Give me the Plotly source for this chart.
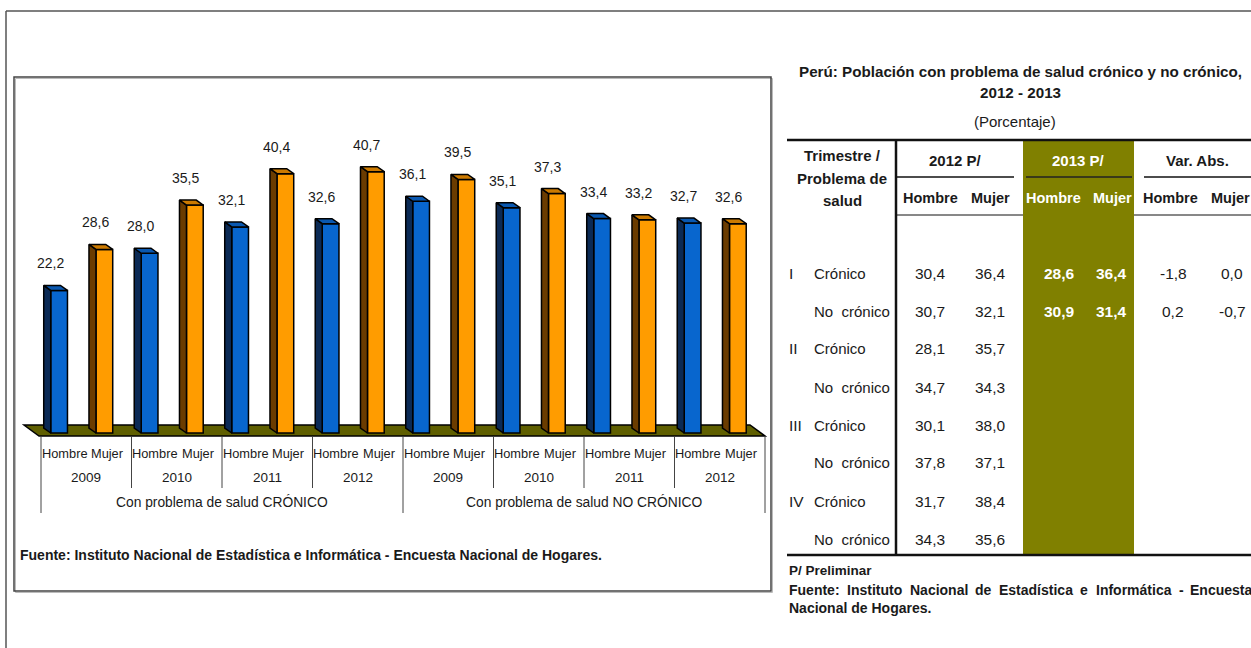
import plotly.graph_objects as go

# ---------------- data ----------------
years = ["2009", "2010", "2011", "2012"]
group_labels = ["Con problema de salud CRÓNICO", "Con problema de salud NO CRÓNICO"]
sex_labels = ["Hombre", "Mujer"]

hombre_cronico = [22.2, 28.0, 32.1, 32.6]
mujer_cronico = [28.6, 35.5, 40.4, 40.7]
hombre_no_cronico = [36.1, 35.1, 33.4, 32.7]
mujer_no_cronico = [39.5, 37.3, 33.2, 32.6]

table_title = ["Perú: Población con problema de salud crónico y no crónico,", "2012 - 2013"]
table_unit = "(Porcentaje)"
trimestres = ["I", "II", "III", "IV"]
problemas = ["Crónico", "No  crónico"]
hombre_2012 = [30.4, 30.7, 28.1, 34.7, 30.1, 37.8, 31.7, 34.3]
mujer_2012 = [36.4, 32.1, 35.7, 34.3, 38.0, 37.1, 38.4, 35.6]
hombre_2013 = [28.6, 30.9]
mujer_2013 = [36.4, 31.4]

# ---------------- layout constants ----------------
W, H = 1251, 648
FONT = "Liberation Sans, Arial, sans-serif"
TXT = "#1a1a1a"
X0_PX, PITCH = 41.0, 45.25      # x = -0.5 at X0_PX, one category = PITCH px
Y0_PX, SCALE = 433.0, 6.42      # value 0 at Y0_PX, px per unit
BOX = (14, 77, 771, 591)        # chart frame (px)


def fmt(v):
    return f"{v:.1f}".replace(".", ",")


def px_x(px):
    return px / W


def px_y(py):
    return 1 - py / H


def ux(px):  # pixel -> data x
    return (px - X0_PX) / PITCH - 0.5


def uy(py):  # pixel -> data y
    return (Y0_PX - py) / SCALE


# ---------------- bar values ----------------
values = []
for hs, ms in [(hombre_cronico, mujer_cronico), (hombre_no_cronico, mujer_no_cronico)]:
    for h, m in zip(hs, ms):
        values += [h, m]
positions = list(range(len(values)))
h_pos, h_val = positions[0::2], values[0::2]
m_pos, m_val = positions[1::2], values[1::2]

OFF, WID = -0.285, 0.37
DX, DY = 7 / PITCH, 5 / SCALE

BLUE, BLUE_SIDE, BLUE_TOP = "#0866CE", "#0B2A55", "#0A58B0"
ORG, ORG_SIDE, ORG_TOP = "#FF9C00", "#6B3C00", "#CC7A00"

fig = go.Figure()


def faces(pos, vals):
    sx, sy, tx, ty = [], [], [], []
    for p, v in zip(pos, vals):
        xl = p + OFF
        xr = xl + WID
        sx += [xl, xl, xl - DX, xl - DX, xl, None]
        sy += [0, v, v + DY, DY, 0, None]
        tx += [xl, xr, xr - DX, xl - DX, xl, None]
        ty += [v, v, v + DY, v + DY, v, None]
    return sx, sy, tx, ty


for pos, vals, front, side, top in [(h_pos, h_val, BLUE, BLUE_SIDE, BLUE_TOP),
                                    (m_pos, m_val, ORG, ORG_SIDE, ORG_TOP)]:
    fig.add_trace(go.Bar(x=pos, y=vals, width=WID, offset=OFF,
                         marker=dict(color=front, line=dict(color="black", width=1.5)),
                         hoverinfo="skip", showlegend=False))
    sx, sy, tx, ty = faces(pos, vals)
    fig.add_trace(go.Scatter(x=sx, y=sy, mode="lines", fill="toself", fillcolor=side,
                             line=dict(color="black", width=1.5), hoverinfo="skip",
                             showlegend=False))
    fig.add_trace(go.Scatter(x=tx, y=ty, mode="lines", fill="toself", fillcolor=top,
                             line=dict(color="black", width=1.5), hoverinfo="skip",
                             showlegend=False))

annotations = []
shapes = []

# value labels
LABEL_DX, LABEL_DY = -0.3, 27 / SCALE
for p, v in zip(positions, values):
    annotations.append(dict(x=p + LABEL_DX, y=v + LABEL_DY, xref="x", yref="y",
                            text=fmt(v), showarrow=False, xanchor="center", yanchor="middle",
                            font=dict(family=FONT, size=14, color=TXT)))

# floor (below traces)
fl_top, fl_bot = uy(425), uy(436)
floor_path = (f"M {ux(24)},{fl_top} L {ux(750)},{fl_top} L {ux(765)},{fl_bot} "
              f"L {ux(39)},{fl_bot} Z")
shapes.append(dict(type="path", path=floor_path, xref="x", yref="y", layer="below",
                   fillcolor="#5F5F00", line=dict(color="black", width=1.5)))

# category axis labels & separators
n_groups = len(years) * len(group_labels)
sep_top = uy(437)
for k in range(n_groups + 1):
    xb = -0.5 + 2 * k
    outer = (k % len(years) == 0)
    bottom = uy(513) if outer else uy(488)
    shapes.append(dict(type="line", xref="x", yref="y", x0=xb, x1=xb, y0=sep_top, y1=bottom,
                       line=dict(color="#444444", width=1)))
for p in positions:
    annotations.append(dict(x=p + (0.03 if p % 2 == 0 else -0.02), y=uy(453), xref="x",
                            yref="y", text=sex_labels[p % 2],
                            showarrow=False, xanchor="center", yanchor="middle",
                            font=dict(family=FONT, size=12.8, color=TXT)))
for k in range(n_groups):
    annotations.append(dict(x=2 * k + 0.5, y=uy(477), xref="x", yref="y",
                            text=years[k % len(years)], showarrow=False,
                            xanchor="center", yanchor="middle",
                            font=dict(family=FONT, size=13.5, color=TXT)))
for g, lab in enumerate(group_labels):
    annotations.append(dict(x=g * 8 + 3.5, y=uy(502), xref="x", yref="y", text=lab,
                            showarrow=False, xanchor="center", yanchor="middle",
                            font=dict(family=FONT, size=13.8, color=TXT)))

# chart footnote and frame (with a light shadow line)
annotations.append(dict(x=px_x(18), y=px_y(555), xref="paper", yref="paper",
                        text="<b>Fuente: Instituto Nacional de Estadística e Informática - "
                             "Encuesta Nacional de Hogares.</b>",
                        showarrow=False, xanchor="left", yanchor="middle",
                        font=dict(family=FONT, size=14, color=TXT)))
shapes.append(dict(type="rect", xref="paper", yref="paper", x0=px_x(BOX[0] + 1.5),
                   x1=px_x(BOX[2] + 1.5), y0=px_y(BOX[3] + 1.5), y1=px_y(BOX[1] + 1.5),
                   line=dict(color="#bbbbbb", width=1)))
shapes.append(dict(type="rect", xref="paper", yref="paper", x0=px_x(BOX[0]), x1=px_x(BOX[2]),
                   y0=px_y(BOX[3]), y1=px_y(BOX[1]), line=dict(color="#444444", width=1.5)))

# outer page frame
shapes.append(dict(type="line", xref="paper", yref="paper", x0=px_x(6), x1=px_x(6),
                   y0=px_y(11), y1=px_y(660), line=dict(color="#555555", width=1.5)))
shapes.append(dict(type="line", xref="paper", yref="paper", x0=px_x(6), x1=px_x(1260),
                   y0=px_y(11), y1=px_y(11), line=dict(color="#555555", width=1.5)))

# ---------------- table ----------------
OLIVE = "#808000"


def pa(x, y, text, size=15.5, anchor="center", color=TXT, bold=False):
    if bold:
        text = f"<b>{text}</b>"
    annotations.append(dict(x=px_x(x), y=px_y(y), xref="paper", yref="paper", text=text,
                            showarrow=False, xanchor=anchor, yanchor="middle",
                            font=dict(family=FONT, size=size, color=color)))


def pline(x0, y0, x1, y1, width=1.5, color="#111111"):
    shapes.append(dict(type="line", xref="paper", yref="paper", x0=px_x(x0), x1=px_x(x1),
                       y0=px_y(y0), y1=px_y(y1), line=dict(color=color, width=width)))


pa(1020, 71, table_title[0], size=15.2, bold=True)
pa(1020, 93, table_title[1], size=15.2, bold=True)
pa(1015, 121, table_unit, size=15)

pline(897, 215, 1256, 215, width=1)
shapes.append(dict(type="rect", xref="paper", yref="paper", x0=px_x(1023), x1=px_x(1134),
                   y0=px_y(555), y1=px_y(140), fillcolor=OLIVE, line=dict(width=0)))
pline(787, 140, 1256, 140, width=2.5)
pline(787, 555, 1256, 555, width=2.5)
pline(896, 140, 896, 555, width=2.5)
pline(897, 177, 1014, 177, width=1.5)
pline(1026, 177, 1132, 177, width=1.5, color="#222222")
pline(1144, 177, 1256, 177, width=1.5)

for i, t in enumerate(["Trimestre /", "Problema de", "salud"]):
    pa(842, 156 + 22 * i, t, size=15, bold=True)

col_x = {"h12": 930, "m12": 990, "h13": 1059, "m13": 1111, "hv": 1173, "mv": 1232}
HS = 14.5
pa(955, 160, "2012 P/", size=15, bold=True)
pa(1078, 160, "2013 P/", size=15, bold=True, color="white")
pa(1197, 160, "Var. Abs.", size=15, bold=True)
pa(930, 198, sex_labels[0], size=HS, bold=True)
pa(990, 198, sex_labels[1], size=HS, bold=True)
pa(1053, 198, sex_labels[0], size=HS, bold=True, color="white")
pa(1112, 198, sex_labels[1], size=HS, bold=True, color="white")
pa(1170, 198, sex_labels[0], size=HS, bold=True)
pa(1230, 198, sex_labels[1], size=HS, bold=True)

row_y0, row_dy = 273, 38.0
for r in range(len(hombre_2012)):
    y = row_y0 + r * row_dy
    if r % 2 == 0:
        pa(787, y, trimestres[r // 2], anchor="left")
    pa(812, y, problemas[r % 2], size=15, anchor="left")
    pa(col_x["h12"], y, fmt(hombre_2012[r]))
    pa(col_x["m12"], y, fmt(mujer_2012[r]))
    if r < len(hombre_2013):
        pa(col_x["h13"], y, fmt(hombre_2013[r]), bold=True, color="white")
        pa(col_x["m13"], y, fmt(mujer_2013[r]), bold=True, color="white")
        pa(col_x["hv"], y, fmt(round(hombre_2013[r] - hombre_2012[r], 1)))
        pa(col_x["mv"], y, fmt(round(mujer_2013[r] - mujer_2012[r], 1) + 0.0))

pa(787, 570, "P/ Preliminar", size=13.5, anchor="left", bold=True)
fuente_words = [("Fuente:", 787), ("Instituto", 844.5), ("Nacional", 907.5), ("de", 973),
                ("Estadística", 996.5), ("e", 1078), ("Informática", 1093.5), ("-", 1176.5),
                ("Encuesta", 1188)]
for w, x in fuente_words:
    pa(x, 590, w, size=14, anchor="left", bold=True)
pa(787, 608, "Nacional de Hogares.", size=14, anchor="left", bold=True)

fig.update_layout(
    width=W, height=H, autosize=False,
    margin=dict(l=0, r=0, t=0, b=0),
    paper_bgcolor="white", plot_bgcolor="rgba(0,0,0,0)",
    barmode="overlay", showlegend=False,
    xaxis=dict(domain=[px_x(BOX[0]), px_x(BOX[2])], range=[ux(BOX[0]), ux(BOX[2])],
               visible=False, fixedrange=True),
    yaxis=dict(domain=[px_y(BOX[3]), px_y(BOX[1])], range=[uy(BOX[3]), uy(BOX[1])],
               visible=False, fixedrange=True),
    annotations=annotations, shapes=shapes,
)

fig.write_html("out.html", config={"displayModeBar": False},
               post_script="document.body.style.margin='0';"
                           "document.body.style.overflow='hidden';")
